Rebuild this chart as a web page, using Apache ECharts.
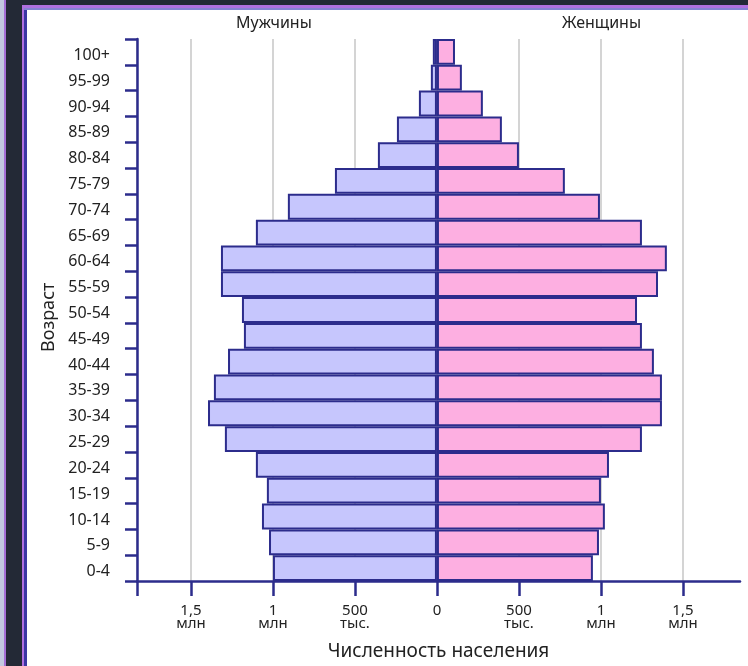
<!DOCTYPE html>
<html>
<head>
<meta charset="utf-8">
<script src="https://cdn.jsdelivr.net/npm/echarts@6/dist/echarts.min.js"></script>
<style>
html,body{margin:0;padding:0;background:#fff;}
#chart{width:748px;height:666px;}
</style>
</head>
<body>
<div id="chart"></div>
<script>
// возрастные группы, снизу вверх
var ages = ['0-4','5-9','10-14','15-19','20-24','25-29','30-34','35-39','40-44','45-49',
    '50-54','55-59','60-64','65-69','70-74','75-79','80-84','85-89','90-94','95-99','100+'];
// тыс. человек
var men = [1000, 1024, 1067, 1037, 1104, 1293, 1396, 1360, 1274, 1177,
    1189, 1317, 1317, 1104, 909, 622, 360, 244, 110, 37, 25];
var women = [951, 988, 1024, 1000, 1049, 1250, 1372, 1372, 1323, 1250,
    1220, 1348, 1402, 1250, 994, 780, 500, 396, 280, 152, 110];
var tickValues = [-1829, -1500, -1000, -500, 0, 500, 1000, 1500];
var labelValues = [-1500, -1000, -500, 0, 500, 1000, 1500];

var axisColor = '#2c2c8c';
var font = 'Noto Sans';

var myChart = echarts.init(document.getElementById('chart'));

var option = {
    animation: false,
    textStyle: {fontFamily: font},
    grid: {left: 137, right: 8, top: 39, bottom: 84},
    graphic: [
        // тёмная рамка окна
        {type: 'rect', shape: {x: 0, y: 0, width: 27, height: 666}, style: {fill: '#232936'}},
        {type: 'rect', shape: {x: 0, y: 0, width: 748, height: 5}, style: {fill: '#232936'}},
        {type: 'rect', shape: {x: 0, y: 0, width: 4, height: 666}, style: {fill: '#c3c9e0'}},
        {type: 'rect', shape: {x: 4, y: 0, width: 2, height: 666}, style: {fill: '#a56fd6'}},
        {type: 'rect', shape: {x: 22, y: 5, width: 2, height: 661}, style: {fill: '#b070e0'}},
        {type: 'rect', shape: {x: 24, y: 8, width: 3, height: 658}, style: {fill: '#3b36a3'}},
        {type: 'rect', shape: {x: 22, y: 5, width: 726, height: 3}, style: {fill: '#b070e0'}},
        {type: 'rect', shape: {x: 24, y: 8, width: 724, height: 2}, style: {fill: '#8583d4'}},
        {type: 'text', left: 236, top: 15, style: {text: 'Мужчины', fontSize: 16, fill: '#222', fontFamily: font}},
        {type: 'text', left: 562, top: 15, style: {text: 'Женщины', fontSize: 16, fill: '#222', fontFamily: font}},
        // подпись оси возраста
        {type: 'text', x: 40, y: 352, rotation: Math.PI / 2, style: {text: 'Возраст', fontSize: 18, fill: '#222', fontFamily: font}}
    ],
    xAxis: {
        type: 'value',
        min: -1829,
        max: 1848,
        name: 'Численность населения',
        nameLocation: 'middle',
        nameGap: 61,
        nameTextStyle: {fontSize: 19, color: '#222'},
        axisLine: {show: true, lineStyle: {color: axisColor, width: 2.5}},
        axisTick: {show: true, length: 15, lineStyle: {color: axisColor, width: 2.5}, customValues: tickValues},
        axisLabel: {
            customValues: labelValues,
            margin: 23,
            fontSize: 15,
            lineHeight: 13,
            color: '#222',
            formatter: function (v) {
                var a = Math.abs(v);
                if (a == 0) return '0';
                if (a == 500) return '500\nтыс.';
                if (a == 1000) return '1\nмлн';
                return '1,5\nмлн';
            }
        },
        splitLine: {show: true, lineStyle: {color: '#d4d4d4', width: 2}}
    },
    yAxis: {
        type: 'category',
        data: ages,
        axisLine: {show: true, onZero: false, lineStyle: {color: axisColor, width: 2.5}},
        axisTick: {show: true, inside: false, length: 12, lineStyle: {color: axisColor, width: 2.5}},
        axisLabel: {
            fontSize: 16, color: '#222', margin: 27,
            formatter: function (v) { return '{a|' + v + '}'; },
            rich: {a: {fontSize: 16, color: '#222', padding: [7, 0, 0, 0]}}
        }
    },
    series: [
        {
            name: 'Мужчины',
            type: 'bar',
            data: men.map(function (v) { return -v; }),
            barCategoryGap: 0,
            barGap: '-100%',
            itemStyle: {color: '#c6c6fd', borderColor: axisColor, borderWidth: 2}
        },
        {
            name: 'Женщины',
            type: 'bar',
            data: women,
            barCategoryGap: 0,
            barGap: '-100%',
            itemStyle: {color: '#fdafe1', borderColor: axisColor, borderWidth: 2}
        }
    ]
};

myChart.setOption(option);
</script>
</body>
</html>
